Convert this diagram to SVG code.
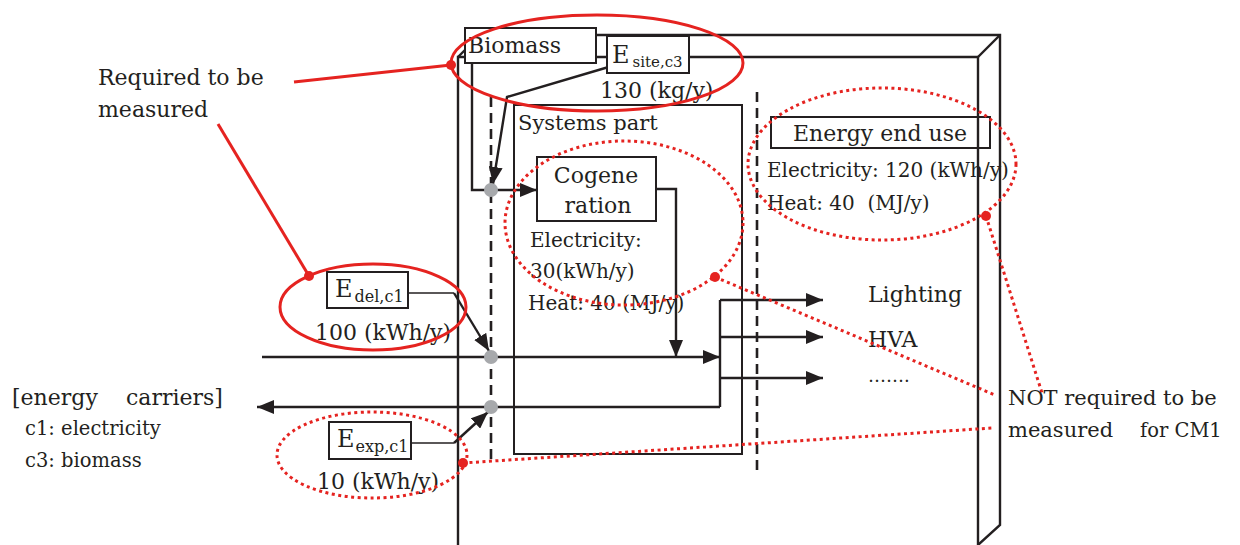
<svg xmlns="http://www.w3.org/2000/svg" width="1240" height="545" viewBox="0 0 1240 545">
<style>
.t{font-family:"DejaVu Serif","Liberation Serif",serif;fill:#231f20;font-size:22px}
.s20{font-size:20px}
.s19{font-size:19.5px}
.box{fill:#fff;stroke:#231f20;stroke-width:2}
.open{fill:none;stroke:#231f20;stroke-width:2}
.ln{fill:none;stroke:#231f20;stroke-width:2.4}
.thin{fill:none;stroke:#231f20;stroke-width:1.6}
.dash{fill:none;stroke:#231f20;stroke-width:2.6;stroke-dasharray:10 6}
.red{fill:none;stroke:#e52320;stroke-width:3}
.rdot{fill:none;stroke:#e52320;stroke-width:3;stroke-dasharray:3 3.5}
.rpt{fill:#e52320}
.junc{fill:#a7a9ac}
</style>
<defs>
<marker id="ah" viewBox="0 0 17 14" refX="17" refY="7" markerWidth="17" markerHeight="14" markerUnits="userSpaceOnUse" orient="auto">
<path d="M0,0 L17,7 L0,14 z" fill="#231f20"/>
</marker>
</defs>

<g id="building">
<path class="ln" d="M465,35 H1000 V525 L978,545"/>
<path class="ln" d="M1000,35 L978,57"/>
<path class="ln" d="M458,545 V57 H978 V545"/>
<path class="ln" d="M458,57 L466,49"/>
</g>

<g id="systems-part">
<rect class="open" x="514" y="105" width="228" height="349"/>
<text class="t" x="518" y="130" style="font-size:21px">Systems part</text>
</g>

<g id="connectors">
<path class="dash" d="M491,97 V465"/>
<path class="dash" d="M757,92 V470"/>
<path class="ln" d="M472,63 V190 H537" marker-end="url(#ah)"/>
<path class="ln" d="M612,66 L507,97 L493,184" marker-end="url(#ah)"/>
<path class="ln" d="M656,189 H676 V357" marker-end="url(#ah)"/>
<path class="ln" d="M262,357 H720" marker-end="url(#ah)"/>
<path class="ln" d="M720,300 V407"/>
<path class="ln" d="M720,300 H823" marker-end="url(#ah)"/>
<path class="ln" d="M720,337 H823" marker-end="url(#ah)"/>
<path class="ln" d="M720,378 H823" marker-end="url(#ah)"/>
<path class="ln" d="M720,407 H257" marker-end="url(#ah)"/>
<path class="thin" d="M408,293 H454"/>
<path class="ln" d="M454,293 L489,351" marker-end="url(#ah)"/>
<path class="thin" d="M411,443 H454"/>
<path class="ln" d="M454,443 L488,412" marker-end="url(#ah)"/>
<circle class="junc" cx="491" cy="190" r="7"/>
<circle class="junc" cx="491" cy="357" r="7"/>
<circle class="junc" cx="491" cy="407" r="7"/>
</g>

<g id="biomass">
<rect class="box" x="465" y="28" width="131" height="35"/>
<text class="t" x="468" y="53">Biomass</text>
</g>

<g id="e-site">
<rect class="box" x="607" y="36" width="82" height="37"/>
<text class="t" x="612" y="63" style="font-size:24px">E<tspan dx="3" dy="4" style="font-size:15px">site,c3</tspan></text>
<text class="t" x="600" y="98">130 (kg/y)</text>
</g>

<g id="cogeneration">
<rect class="box" x="537" y="157" width="119" height="64"/>
<text class="t" x="596" y="183" text-anchor="middle">Cogene</text>
<text class="t" x="598" y="213" text-anchor="middle">ration</text>
<text class="t s20" x="530" y="247">Electricity:</text>
<text class="t s20" x="530" y="278">30(kWh/y)</text>
<text class="t s20" x="528" y="310">Heat: 40 (MJ/y)</text>
</g>

<g id="energy-end-use">
<rect class="open" x="771" y="117" width="219" height="31"/>
<text class="t" x="880" y="141" text-anchor="middle">Energy end use</text>
<text class="t s20" x="767" y="177">Electricity: 120 (kWh/y)</text>
<text class="t s20" x="767" y="210" xml:space="preserve">Heat: 40  (MJ/y)</text>
</g>

<g id="end-uses">
<text class="t" x="868" y="302">Lighting</text>
<text class="t" x="868" y="347">HVA</text>
<text class="t" x="868" y="382" style="font-size:18px">…….</text>
</g>

<g id="e-del">
<rect class="box" x="327" y="272" width="81" height="36"/>
<text class="t" x="335" y="297" style="font-size:24px">E<tspan dx="2" dy="5" style="font-size:16px">del,c1</tspan></text>
<text class="t" x="315" y="340">100 (kWh/y)</text>
</g>

<g id="e-exp">
<rect class="box" x="329" y="422" width="82" height="37"/>
<text class="t" x="337" y="447" style="font-size:24px">E<tspan dx="1" dy="5" style="font-size:16px">exp,c1</tspan></text>
<text class="t" x="317" y="489">10 (kWh/y)</text>
</g>

<g id="legend">
<text class="t" x="12" y="405">[energy <tspan x="126">carriers]</tspan></text>
<text class="t s19" x="25" y="435">c1: electricity</text>
<text class="t s19" x="25" y="467">c3: biomass</text>
</g>

<g id="annotations">
<ellipse class="red" cx="597" cy="63" rx="146" ry="48"/>
<path class="red" d="M294,82 L451,65"/>
<circle class="rpt" cx="451" cy="65" r="5"/>
<path class="red" d="M218,124 L309,276"/>
<circle class="rpt" cx="309" cy="276" r="5"/>
<ellipse class="red" cx="373" cy="307" rx="93" ry="43"/>
<ellipse class="rdot" cx="372" cy="455" rx="95" ry="43"/>
<path class="rdot" d="M463,463 L992,428"/>
<circle class="rpt" cx="463" cy="463" r="5"/>
<ellipse class="rdot" cx="624" cy="223" rx="119" ry="82"/>
<path class="rdot" d="M715,277 L995,395"/>
<circle class="rpt" cx="715" cy="277" r="5"/>
<ellipse class="rdot" cx="882" cy="164" rx="134" ry="76"/>
<path class="rdot" d="M986,216 L1042,393"/>
<circle class="rpt" cx="986" cy="216" r="5"/>
<text class="t" x="98" y="85">Required to be</text>
<text class="t" x="98" y="117">measured</text>
<text class="t" x="1008" y="405" style="font-size:21px">NOT required to be</text>
<text class="t" x="1008" y="437" style="font-size:21px">measured<tspan x="1140" style="font-size:19.5px">for CM1</tspan></text>
</g>
</svg>
